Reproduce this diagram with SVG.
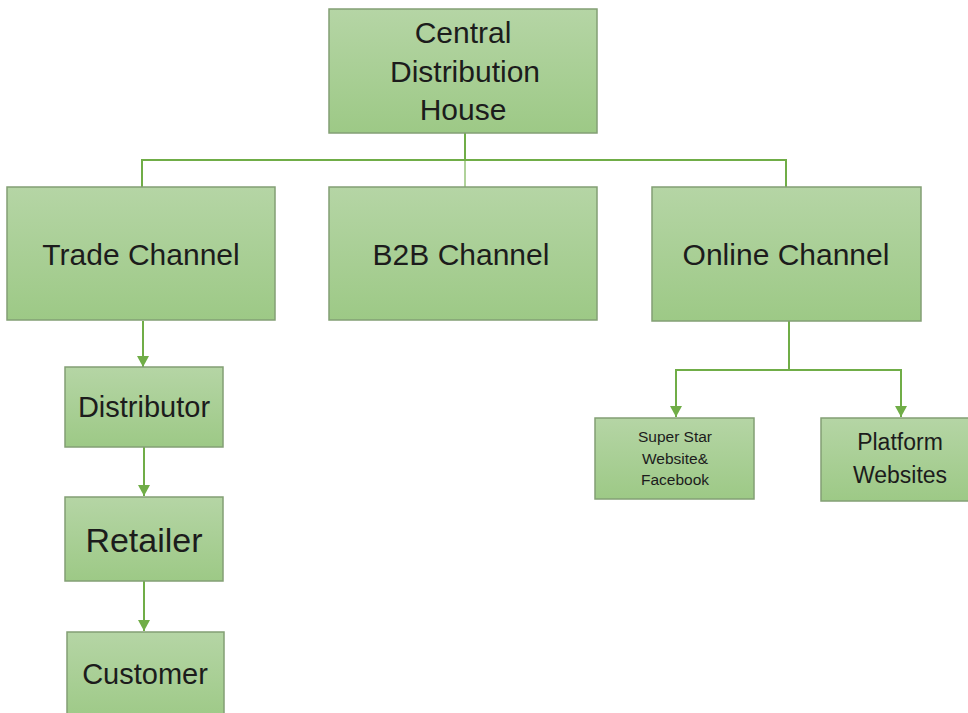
<svg xmlns="http://www.w3.org/2000/svg" width="968" height="713" viewBox="0 0 968 713">
  <style>
    .box { fill: url(#g); stroke: #839f74; stroke-width: 1.5; }
    .t { font-family: "Liberation Sans", Arial, sans-serif; fill: #1c1c1c; text-anchor: middle; }
    .c { fill: none; stroke: #70ad47; stroke-width: 2; }
  </style>
  <defs>
    <linearGradient id="g" x1="0" y1="0" x2="0" y2="1">
      <stop offset="0" stop-color="#b5d5a5"/>
      <stop offset="1" stop-color="#9dc986"/>
    </linearGradient>
    <marker id="a" markerWidth="11" markerHeight="12" refX="11" refY="6" orient="auto" markerUnits="userSpaceOnUse" viewBox="0 0 11 12">
      <path d="M0,0 L11,6 L0,12 Z" fill="#70ad47"/>
    </marker>
  </defs>
  <rect width="968" height="713" fill="#ffffff"/>

  <g id="connectors">
    <path class="c" d="M465,133 V160"/>
    <path class="c" d="M465,160 V187" stroke-opacity="0.55"/>
    <path class="c" d="M142,187 V160 H786 V187"/>
    <path d="M143,321 V367" class="c" marker-end="url(#a)"/>
    <path d="M144,447 V496" class="c" marker-end="url(#a)"/>
    <path d="M144,581 V631" class="c" marker-end="url(#a)"/>
    <path class="c" d="M789,321 V370"/>
    <path d="M789,370 H676 V417" class="c" marker-end="url(#a)"/>
    <path d="M789,370 H901 V417" class="c" marker-end="url(#a)"/>
  </g>

  <g id="central">
    <rect class="box" x="329" y="9" width="268" height="124"/>
    <text class="t" x="463" y="43" font-size="30">Central</text>
    <text class="t" x="465" y="82" font-size="30">Distribution</text>
    <text class="t" x="463" y="120" font-size="30">House</text>
  </g>
  <g id="trade">
    <rect class="box" x="7" y="187" width="268" height="133"/>
    <text class="t" x="141" y="265" font-size="30">Trade Channel</text>
  </g>
  <g id="b2b">
    <rect class="box" x="329" y="187" width="268" height="133"/>
    <text class="t" x="461" y="265" font-size="30">B2B Channel</text>
  </g>
  <g id="online">
    <rect class="box" x="652" y="187" width="269" height="134"/>
    <text class="t" x="786" y="265" font-size="30">Online Channel</text>
  </g>
  <g id="distributor">
    <rect class="box" x="65" y="367" width="158" height="80"/>
    <text class="t" x="144" y="417" font-size="29">Distributor</text>
  </g>
  <g id="retailer">
    <rect class="box" x="65" y="497" width="158" height="84"/>
    <text class="t" x="144" y="552" font-size="34">Retailer</text>
  </g>
  <g id="customer">
    <rect class="box" x="67" y="632" width="157" height="90"/>
    <text class="t" x="145" y="684" font-size="29">Customer</text>
  </g>
  <g id="superstar">
    <rect class="box" x="595" y="418" width="159" height="81"/>
    <text class="t" x="675" y="442" font-size="15.5">Super Star</text>
    <text class="t" x="675" y="464" font-size="15.5">Website&amp;</text>
    <text class="t" x="675" y="485" font-size="15.5">Facebook</text>
  </g>
  <g id="platform">
    <rect class="box" x="821" y="418" width="150" height="83"/>
    <text class="t" x="900" y="450" font-size="23">Platform</text>
    <text class="t" x="900" y="483" font-size="23">Websites</text>
  </g>
</svg>
